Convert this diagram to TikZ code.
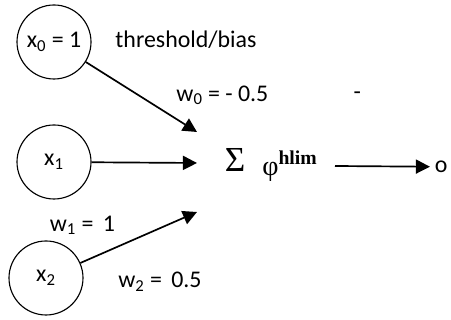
\documentclass[tikz,border=0pt]{standalone}
\usepackage{fontspec}
\setmainfont{Carlito}
\newfontfamily\greekserif{Liberation Serif}
\usetikzlibrary{arrows.meta}

\begin{document}
\begin{tikzpicture}[
  unit/.style={draw, circle, minimum size=1.85cm, inner sep=0pt, line width=0.8pt, font=\fontsize{17}{20}\selectfont},
  lbl/.style={font=\fontsize{17}{20}\selectfont},
  sym/.style={font=\greekserif\fontsize{25}{30}\selectfont},
  wire/.style={line width=1.2pt, -{Triangle[length=10pt,width=10pt]}}
]
\useasboundingbox (0,0) rectangle (11.275,8);
\node[unit] (x0) at (1.35,6.95) {x\textsubscript{0} = 1};
\node[unit] (x1) at (1.35,3.95) {x\textsubscript{1}};
\node[unit] (x2) at (1.15,1.05) {x\textsubscript{2}};
\node[lbl] (bias) at (4.65,7.0) {threshold/bias};
\node[lbl] (w0) at (5.56,5.62) {w\textsubscript{0} = - 0.5};
\node[lbl] (dash) at (8.93,5.62) {-};
\node[lbl] (w1) at (2.06,2.37) {w\textsubscript{1} =\, 1};
\node[lbl] (w2) at (4.0,0.95) {w\textsubscript{2} =\, 0.5};
\node[sym] (sum) at (5.875,4.0) {Σ};
\node[sym, font=\greekserif\fontsize{20}{24}\selectfont, anchor=base west, inner sep=0pt] (act) at (6.55,3.6)
  {φ\raisebox{8pt}{\fontsize{14}{16}\selectfont\bfseries hlim}};
\node[lbl] (out) at (11.03,3.83) {o};
\coordinate (in0) at (4.925,4.7);
\coordinate (in1) at (4.925,3.925);
\coordinate (in2) at (4.925,2.7);
\coordinate (ostart) at (8.375,3.85);
\draw[wire] (x0) -- (in0);
\draw[wire] (x1) -- (in1);
\draw[wire] (x2) -- (in2);
\draw[wire] (ostart) -- (out);
\end{tikzpicture}
\end{document}
